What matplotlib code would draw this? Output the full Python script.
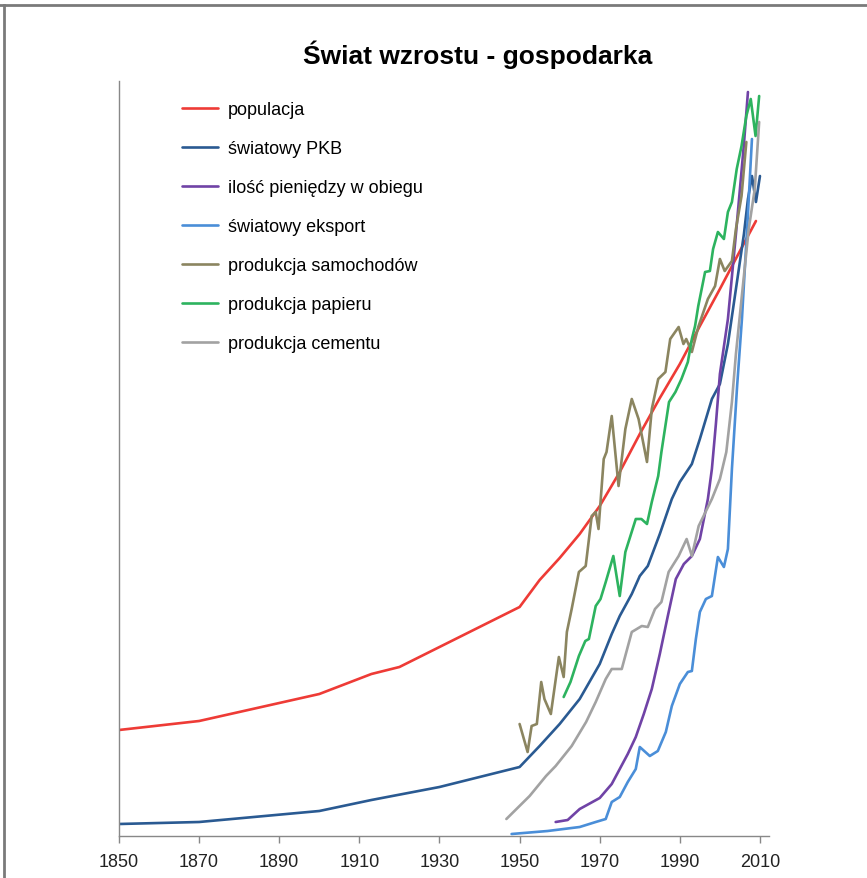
import matplotlib
matplotlib.use('Agg')
import matplotlib.pyplot as plt
from matplotlib.lines import Line2D

plt.rcParams['font.family'] = ['Liberation Sans', 'DejaVu Sans']

# values (relative index, no y scale shown)
pop_years = [1850, 1870, 1900, 1913, 1920, 1930, 1940, 1950, 1955, 1960, 1965, 1970,
             1975, 1980, 1985, 1990, 1995, 2000, 2005, 2009]
pop_vals = [104, 113, 140, 160, 167, 187, 207, 227, 254, 276, 300, 328,
            362, 400, 436, 470, 508, 545, 583, 613]

gdp_years = [1850, 1870, 1900, 1913, 1930, 1940, 1950, 1955, 1960, 1965, 1970, 1973, 1975,
             1978, 1980, 1982, 1985, 1988, 1990, 1993, 1995, 1998, 2000, 2002, 2004, 2006,
             2007, 2008, 2009, 2010]
gdp_vals = [10, 12, 23, 34, 47, 57, 67, 88, 110, 135, 170, 200, 218,
            240, 258, 268, 300, 335, 352, 370, 395, 435, 450, 490, 545, 600,
            635, 658, 632, 658]

money_years = [1959, 1962, 1965, 1970, 1973, 1975, 1977, 1979, 1981, 1983, 1985, 1987,
               1989, 1991, 1993, 1995, 1997, 1998, 1999, 2000, 2002, 2004, 2006, 2007]
money_vals = [12, 14, 25, 36, 50, 65, 80, 97, 120, 145, 180, 218,
              255, 270, 278, 295, 335, 365, 410, 460, 515, 600, 690, 742]

export_years = [1948, 1957, 1965, 1969, 1971.5, 1973, 1975, 1977, 1979, 1980, 1982.5,
                1984.5, 1986.5, 1988, 1990, 1992, 1993, 1994, 1995, 1996.5, 1998, 1999.5,
                2001, 2002, 2003, 2004.3, 2005.5, 2007, 2008]
export_vals = [0, 3, 7, 12, 15, 32, 37, 52, 65, 87, 78,
               83, 102, 128, 150, 162, 163, 195, 222, 235, 238, 277,
               267, 285, 365, 448, 515, 620, 695]

cars_years = [1950, 1952, 1953, 1954.3, 1955.4, 1956.2, 1957.8, 1959.8, 1961, 1961.8, 1963,
              1964.8, 1966.5, 1968, 1969, 1969.7, 1971, 1971.7, 1973, 1974.7, 1976.4, 1978,
              1979.7, 1981.8, 1983, 1984.6, 1986.4, 1987.6, 1989.7, 1990.9, 1991.6, 1993,
              1994.6, 1997, 1998.8, 2000, 2001.2, 2003, 2004, 2005.4, 2006.6]
cars_vals = [110, 82, 108, 110, 152, 135, 120, 177, 157, 202, 225,
             262, 268, 318, 322, 305, 375, 382, 418, 348, 405, 435,
             415, 372, 425, 455, 462, 495, 507, 490, 495, 482,
             507, 535, 548, 575, 563, 573, 605, 638, 692]

paper_years = [1961, 1962.7, 1964.8, 1966.4, 1967.3, 1969, 1970.2, 1971.5, 1973.4, 1975,
               1976.4, 1979, 1980.4, 1981.8, 1983, 1984.6, 1985.4, 1987.3, 1988.9, 1990.4,
               1992, 1993, 1993.8, 1994.6, 1996.3, 1997.5, 1998.3, 1999.5, 2001, 2002, 2003,
               2004.2, 2005.4, 2006.6, 2007.7, 2008.9, 2009.8]
paper_vals = [137, 152, 178, 193, 195, 228, 235, 252, 278, 238,
              282, 315, 315, 310, 332, 358, 382, 432, 442, 455,
              472, 495, 508, 528, 562, 563, 585, 602, 595, 622, 632,
              665, 688, 718, 735, 698, 738]

cement_years = [1946.7, 1952.5, 1956.6, 1959, 1963, 1966.6, 1969, 1971.5, 1973, 1975.5, 1978,
                1980.5, 1982, 1983.8, 1985.4, 1987.2, 1989.7, 1991.7, 1993, 1994.7, 1998,
                2000, 2001.6, 2003, 2004, 2005.4, 2007.2, 2008.7, 2009.8]
cement_vals = [15, 38, 58, 68, 88, 112, 132, 155, 165, 165, 202,
               208, 207, 225, 232, 262, 278, 295, 278, 308, 335,
               355, 382, 432, 480, 535, 605, 645, 712]

series = [
    ('populacja', pop_years, pop_vals, '#EE3B36'),
    ('światowy PKB', gdp_years, gdp_vals, '#2A5A92'),
    ('ilość pieniędzy w obiegu', money_years, money_vals, '#7043A6'),
    ('światowy eksport', export_years, export_vals, '#4A8ED8'),
    ('produkcja samochodów', cars_years, cars_vals, '#8B8560'),
    ('produkcja papieru', paper_years, paper_vals, '#2DB35F'),
    ('produkcja cementu', cement_years, cement_vals, '#A2A2A2'),
]

fig = plt.figure(figsize=(8.67, 8.79), dpi=100)
ax = fig.add_axes([119 / 867, 42 / 879, 650 / 867, 755 / 879])

for name, xs, ys, col in series:
    ax.plot(xs, ys, color=col, lw=1.9, label=name,
            solid_joinstyle='round', solid_capstyle='round')

ax.set_xlim(1850, 1850 + 650 / 4.006)
ax.set_ylim(-2, 753)
ax.set_xticks(range(1850, 2011, 20))
ax.set_yticks([])
ax.tick_params(axis='x', direction='out', length=5, width=1, color='#888888',
               labelsize=13, labelcolor='#222222', pad=7)
for s in ['top', 'right']:
    ax.spines[s].set_visible(False)
for s in ['left', 'bottom']:
    ax.spines[s].set_color('#888888')
    ax.spines[s].set_linewidth(1)

fig.text(478 / 867, 1 - 55 / 879, 'Świat wzrostu - gospodarka', ha='center', va='center',
         fontsize=19, fontweight='bold', color='black')

ax.legend(loc='upper left', bbox_to_anchor=(182 / 867, 1 - 102 / 879),
          bbox_transform=fig.transFigure, frameon=False, fontsize=13,
          handlelength=2.0, handletextpad=0.55, labelspacing=1.22,
          borderpad=0, borderaxespad=0)

# outer frame of the original image
fig.add_artist(Line2D([0, 1], [1 - 6 / 879, 1 - 6 / 879], transform=fig.transFigure,
                      color='#7a7a7a', lw=2))
fig.add_artist(Line2D([4 / 867, 4 / 867], [0, 1 - 6 / 879], transform=fig.transFigure,
                      color='#7a7a7a', lw=2))

fig.savefig('out.png', dpi=100)
